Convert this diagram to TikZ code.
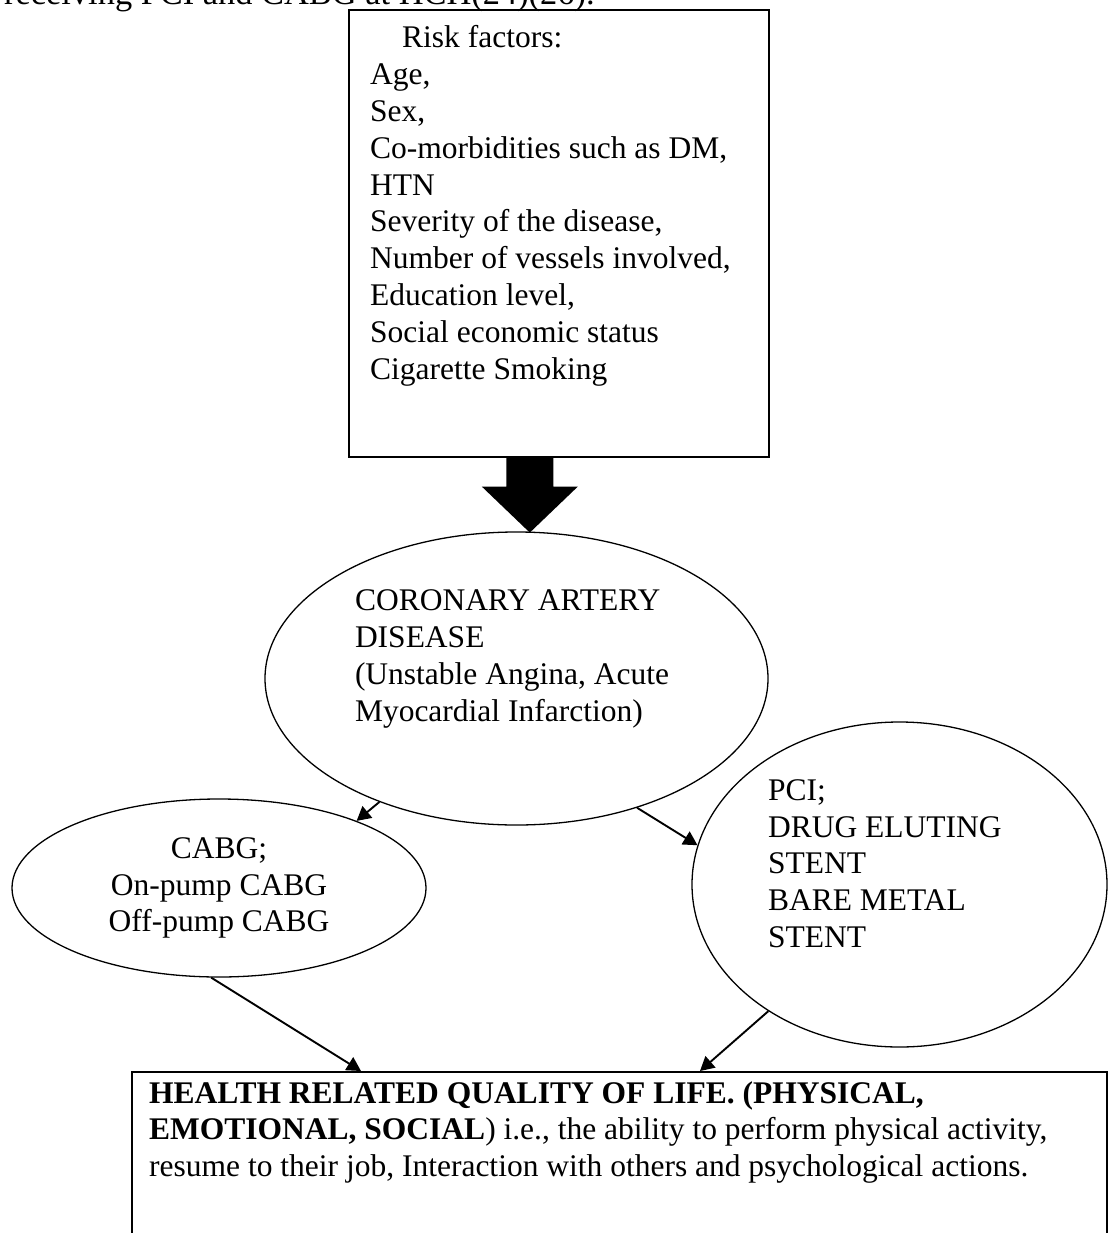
\documentclass[tikz,border=0pt]{standalone}
\usepackage{fontspec}
\setmainfont{Liberation Serif}
\usetikzlibrary{arrows.meta,shapes.geometric}
\newcommand{\diagfont}{\fontsize{31.5}{36.8}\selectfont}

\begin{document}
\begin{tikzpicture}[x=1pt,y=-1pt,
    box/.style={draw,line width=1.6pt,inner sep=0pt,anchor=north west},
    oval/.style={draw,ellipse,line width=1.3pt,inner sep=0pt,font=\diagfont},
    txt/.style={inner sep=0pt,anchor=base west,font=\diagfont},
    link/.style={line width=1.9pt,-{Triangle[length=14pt,width=15pt]}}]
        % page frame
        \useasboundingbox (0,0) rectangle (1108,1233);
        \clip (0,0) rectangle (1108,1233);

        % running text above the figure (cut off)
        \node[txt,font=\fontsize{34.4}{40}\selectfont] (runline) at (4,5) {receiving PCI and CABG at HCH(24)(26).};

        % risk factors
        \node[box,minimum width=420pt,minimum height=447pt] (risk) at (348,9) {};
        \node[txt] (risklist) at (370,48) {\parbox[t]{380pt}{\hspace*{32pt}Risk factors:\\
            Age,\\
            Sex,\\
            Co-morbidities such as DM,\\
            HTN\\
            Severity of the disease,\\
            Number of vessels involved,\\
            Education level,\\
            Social economic status\\
            Cigarette Smoking}};

        % block arrow
        \coordinate (blktop) at ([xshift=-29pt]risk.south);
        \fill[shift={(blktop)}] (-23.5,0) -- (-23.5,29) -- (-48,29) -- (0,75) -- (48,29) -- (23.5,29) -- (23.5,0) -- cycle;

        % disease
        \node[oval,minimum width=503pt,minimum height=293pt] (cad) at (516.5,678.5)
            {\parbox[c][177pt][t]{323pt}{CORONARY ARTERY\\ DISEASE\\ (Unstable Angina, Acute\\ Myocardial Infarction)}};

        % treatments
        \node[oval,align=center,minimum width=414pt,minimum height=178pt] (cabg) at (219,888)
            {CABG;\\ On-pump CABG\\ Off-pump CABG};
        \node[oval,minimum width=415pt,minimum height=325pt] (pci) at (899.5,884.5)
            {\parbox[c][210pt][t]{263pt}{PCI;\\ DRUG ELUTING\\ STENT\\ BARE METAL\\ STENT}};

        % quality of life
        \node[box,minimum width=975pt,minimum height=220pt] (hrql) at (131,1071) {};
        \node[txt] (hrqltext) at (149,1103) {\parbox[t]{950pt}{\textbf{HEALTH RELATED QUALITY OF LIFE. (PHYSICAL,}\\
            \textbf{EMOTIONAL, SOCIAL}) i.e., the ability to perform physical activity,\\
            resume to their job, Interaction with others and psychological actions.}};

        % links
        \draw[link] (cad.222) -- (cabg.26);
        \draw[link] (cad.313) -- (pci.169);
        \draw[link] (cabg.265) -- ([xshift=230pt]hrql.north west);
        \draw[link] (pci.224) -- ([xshift=569pt]hrql.north west);
    \end{tikzpicture}
\end{document}
